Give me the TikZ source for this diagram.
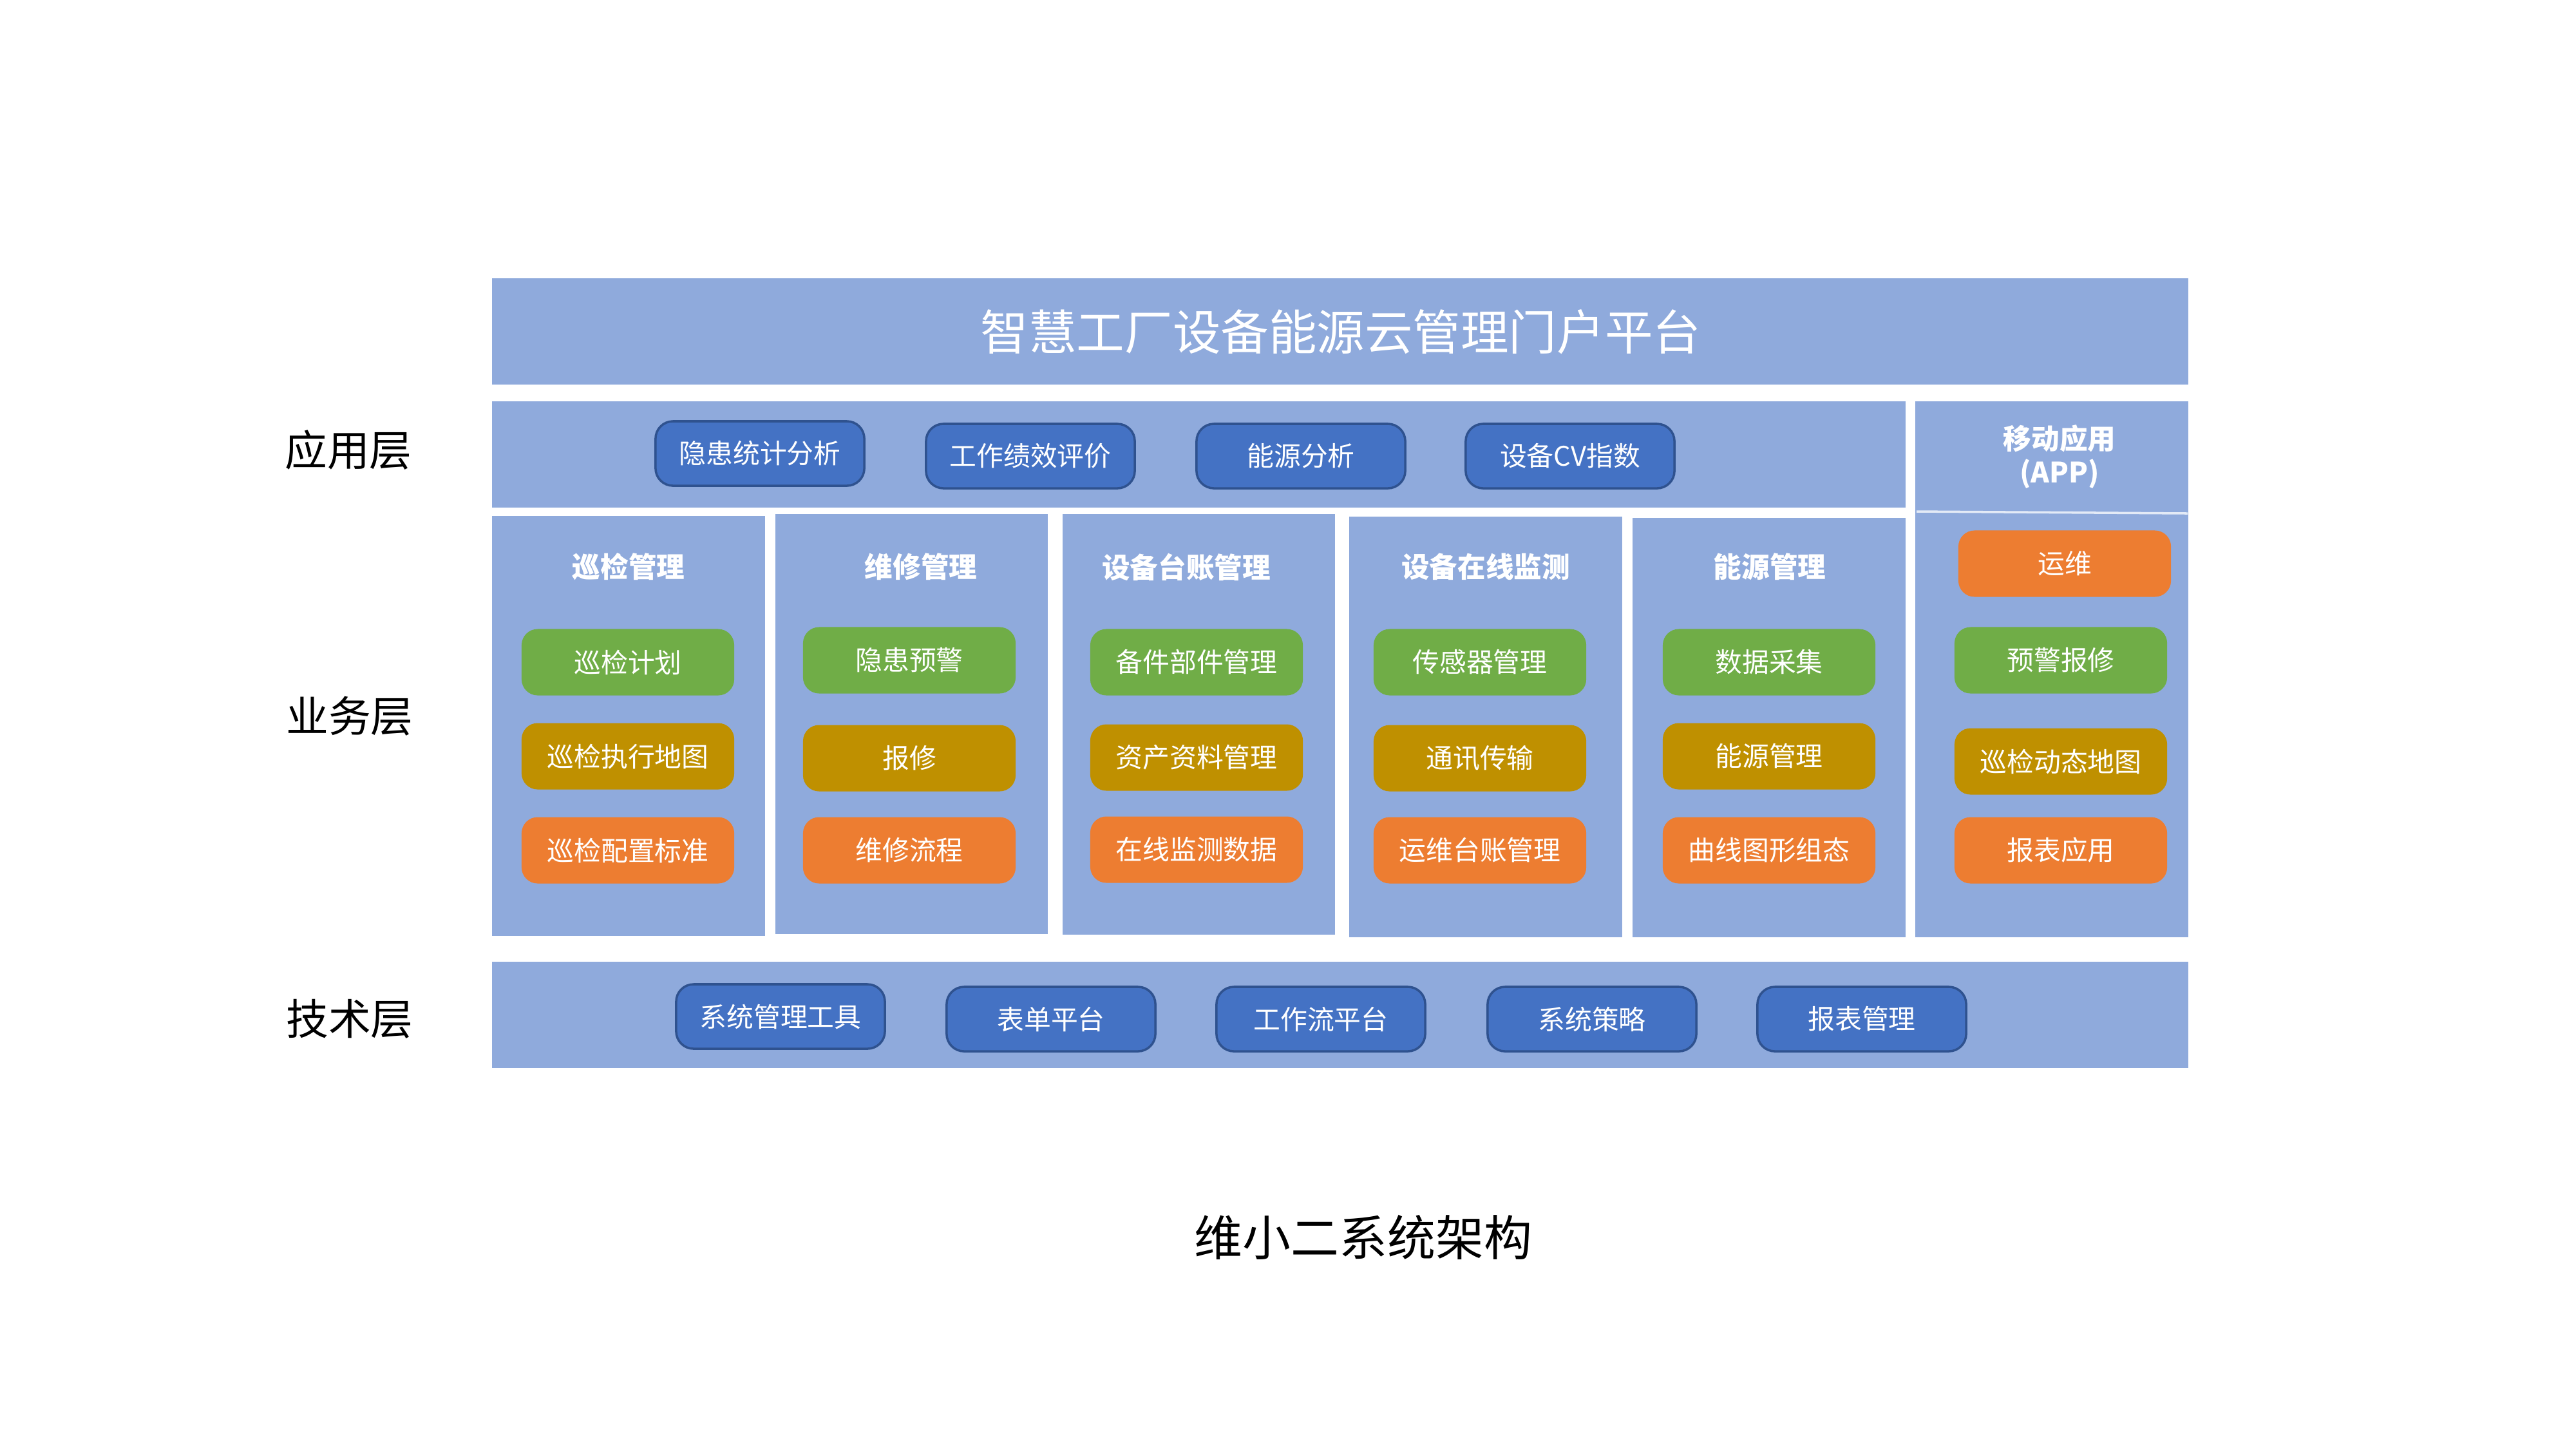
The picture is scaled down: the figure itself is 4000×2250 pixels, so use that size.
\documentclass[tikz,border=0pt]{standalone}
\usepackage{fontspec}
\setmainfont{Noto Sans CJK SC}
\definecolor{layerblue}{HTML}{8FAADC}
\definecolor{btnblue}{HTML}{4472C4}
\definecolor{btnedge}{HTML}{2F528F}
\definecolor{itemgreen}{HTML}{70AD47}
\definecolor{itemgold}{HTML}{BF9000}
\definecolor{itemorange}{HTML}{ED7D31}
\tikzset{
  btn/.style={draw=btnedge,line width=1pt,fill=btnblue,rounded corners=0.27cm,
    minimum width=3.24cm,minimum height=1cm,inner sep=0pt,text=white,
    font=\fontsize{11.9}{14}\selectfont},
  item/.style={rounded corners=0.25cm,minimum width=3.3cm,minimum height=1.03cm,
    inner sep=0pt,text=white,font=\fontsize{11.9}{14}\selectfont},
  colhead/.style={text=white,align=center,font=\bfseries\fontsize{12.4}{15}\selectfont},
  layername/.style={font=\fontsize{18.7}{22}\selectfont}
}
\begin{document}
\begin{tikzpicture}[x=0.01cm,y=-0.01cm]
\useasboundingbox (0,0) rectangle (4000,2250);
% layer backgrounds
\fill[layerblue] (764,432) rectangle (3398,597);
\fill[layerblue] (764,623) rectangle (2959,788);
\fill[layerblue] (2974,623) rectangle (3398,1455);
\draw[white!75!layerblue,line width=1pt] (2976,794) -- (3397,797);
\fill[layerblue] (764,801) rectangle (1188,1453);
\fill[layerblue] (1204,798) rectangle (1627,1450);
\fill[layerblue] (1650,798) rectangle (2073,1451);
\fill[layerblue] (2095,802) rectangle (2519,1455);
\fill[layerblue] (2535,804) rectangle (2959,1455);
\fill[layerblue] (764,1493) rectangle (3398,1658);

\node[text=white,font=\fontsize{21.2}{25}\selectfont] (portal) at (2082,515) {智慧工厂设备能源云管理门户平台};

\node[layername] (lapp) at (541,699) {应用层};
\node[layername] (lbiz) at (543,1112) {业务层};
\node[layername] (ltech) at (543,1582) {技术层};

% application layer
\node[btn] (a1) at (1180,704) {隐患统计分析};
\node[btn] (a2) at (1600,708) {工作绩效评价};
\node[btn] (a3) at (2020,708) {能源分析};
\node[btn] (a4) at (2438,708) {设备CV指数};

% business layer
\node[colhead] (h1) at (976,880) {巡检管理};
\node[colhead] (h2) at (1430,880) {维修管理};
\node[colhead] (h3) at (1842,880) {设备台账管理};
\node[colhead] (h4) at (2307,880) {设备在线监测};
\node[colhead] (h5) at (2748,880) {能源管理};
\node[colhead] (h6) at (3198,709) {移动应用\\(APP)};

\node[item,fill=itemgreen] (b11) at (975,1028) {巡检计划};
\node[item,fill=itemgold] (b12) at (975,1174) {巡检执行地图};
\node[item,fill=itemorange] (b13) at (975,1320) {巡检配置标准};

\node[item,fill=itemgreen] (b21) at (1412,1025) {隐患预警};
\node[item,fill=itemgold] (b22) at (1412,1177) {报修};
\node[item,fill=itemorange] (b23) at (1412,1320) {维修流程};

\node[item,fill=itemgreen] (b31) at (1858,1028) {备件部件管理};
\node[item,fill=itemgold] (b32) at (1858,1176) {资产资料管理};
\node[item,fill=itemorange] (b33) at (1858,1319) {在线监测数据};

\node[item,fill=itemgreen] (b41) at (2298,1028) {传感器管理};
\node[item,fill=itemgold] (b42) at (2298,1177) {通讯传输};
\node[item,fill=itemorange] (b43) at (2298,1320) {运维台账管理};

\node[item,fill=itemgreen] (b51) at (2747,1028) {数据采集};
\node[item,fill=itemgold] (b52) at (2747,1174) {能源管理};
\node[item,fill=itemorange] (b53) at (2747,1320) {曲线图形组态};

\node[item,fill=itemorange] (m1) at (3206,875) {运维};
\node[item,fill=itemgreen] (m2) at (3200,1025) {预警报修};
\node[item,fill=itemgold] (m3) at (3200,1182) {巡检动态地图};
\node[item,fill=itemorange] (m4) at (3200,1320) {报表应用};

% technology layer
\node[btn] (t1) at (1212,1578) {系统管理工具};
\node[btn] (t2) at (1632,1582) {表单平台};
\node[btn] (t3) at (2051,1582) {工作流平台};
\node[btn] (t4) at (2472,1582) {系统策略};
\node[btn] (t5) at (2891,1582) {报表管理};

\node[font=\fontsize{21.3}{25}\selectfont] (caption) at (2117,1921) {维小二系统架构};
\end{tikzpicture}
\end{document}
